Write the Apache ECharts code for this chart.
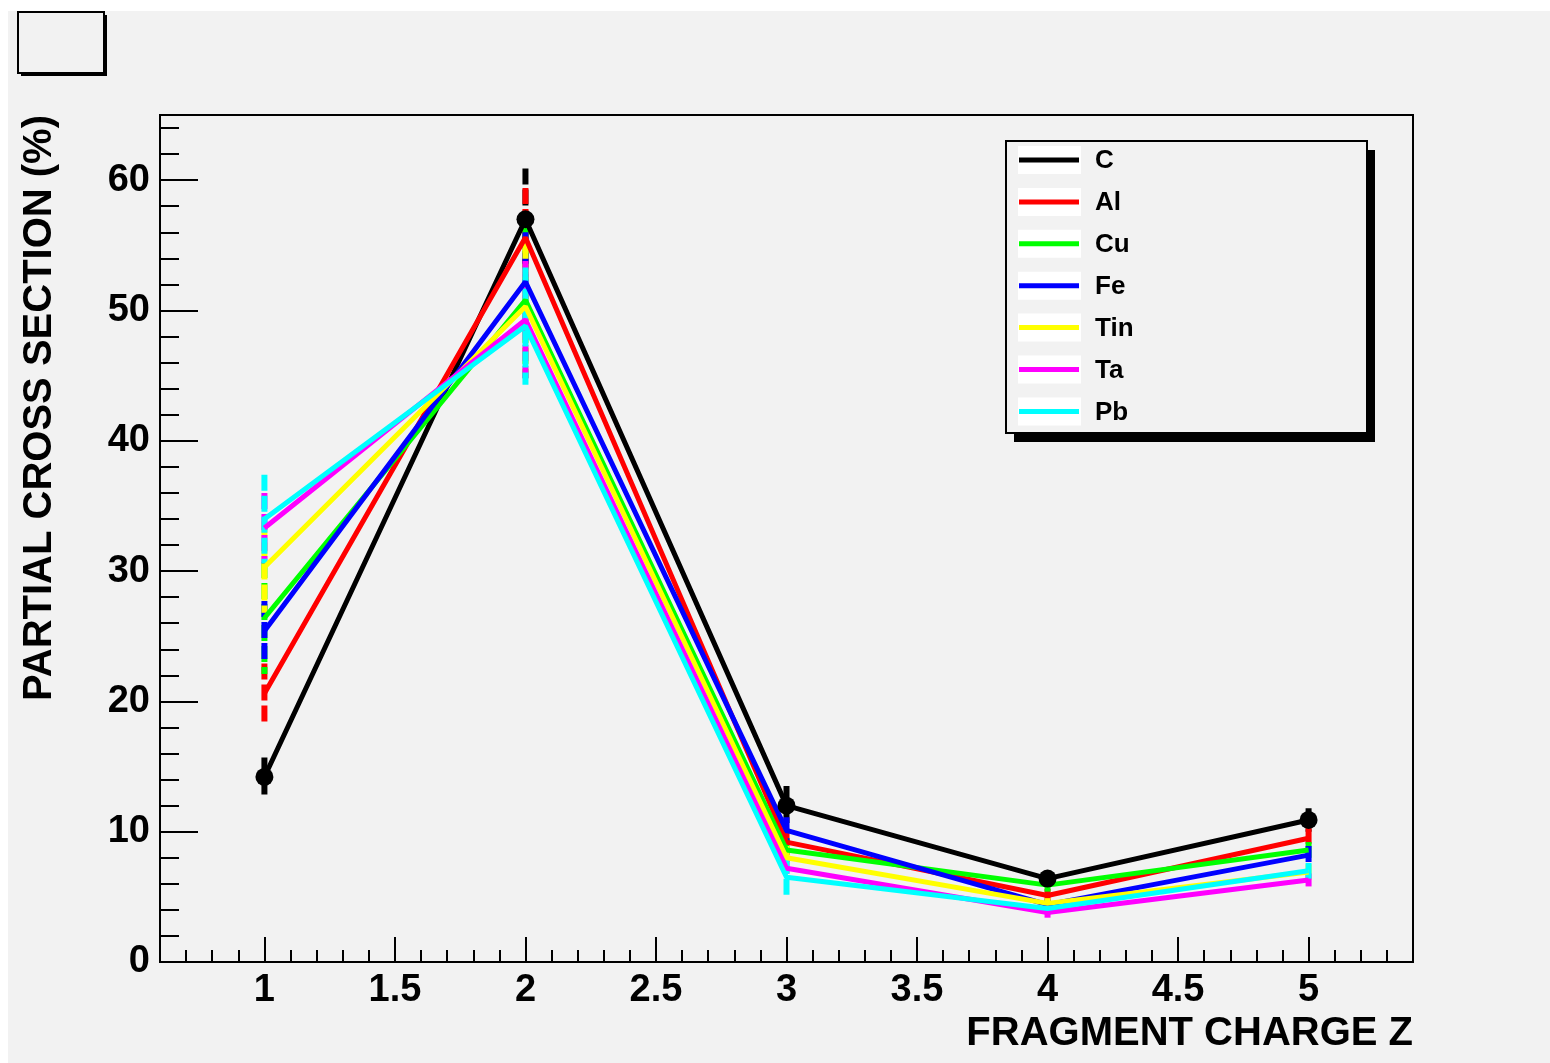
<!DOCTYPE html>
<html>
<head>
<meta charset="utf-8">
<script src="https://cdn.jsdelivr.net/npm/echarts@6/dist/echarts.min.js"></script>
<style>
  html, body { margin: 0; padding: 0; background: #ffffff; }
  #pad { position: absolute; left: 8px; top: 11px; width: 1542px; height: 1052px; background: #f2f2f2; }
  #chart { position: absolute; left: 0; top: 0; width: 1550px; height: 1063px; }
</style>
</head>
<body>
<div id="pad"></div>
<div id="chart"></div>
<script>
// Fragment charge Z
const charges = [1, 2, 3, 4, 5];

// Partial cross sections (%) per target, with errors
const targets = ['C', 'Al', 'Cu', 'Fe', 'Tin', 'Ta', 'Pb'];
const targetColors = ['#000000', '#ff0000', '#00ff00', '#0000ff', '#ffff00', '#ff00ff', '#00ffff'];

const sigmaC   = [14.2, 57.0, 12.0, 6.4, 10.9];
const sigmaAl  = [20.6, 55.6, 9.2, 5.1, 9.5];
const sigmaCu  = [26.4, 50.8, 8.6, 5.9, 8.6];
const sigmaFe  = [25.4, 52.2, 10.1, 4.4, 8.2];
const sigmaTin = [30.3, 50.3, 8.0, 4.5, 6.9];
const sigmaTa  = [33.3, 49.3, 7.2, 3.8, 6.3];
const sigmaPb  = [34.0, 48.8, 6.5, 4.1, 7.0];

const errC   = [1.5, 3.9, 1.5, 0.6, 0.9];
const errAl  = [2.3, 3.8, 1.0, 0.5, 0.8];
const errCu  = [4.3, 6.0, 0.9, 0.5, 0.6];
const errFe  = [2.3, 3.8, 1.0, 0.4, 0.7];
const errTin = [3.5, 4.9, 0.9, 0.4, 0.6];
const errTa  = [2.7, 4.5, 0.8, 0.4, 0.5];
const errPb  = [3.4, 4.5, 1.5, 0.4, 0.6];

const sigmas = [sigmaC, sigmaAl, sigmaCu, sigmaFe, sigmaTin, sigmaTa, sigmaPb];
const errors = [errC, errAl, errCu, errFe, errTin, errTa, errPb];

// Axis tick values
const xMajorTicks = [1, 1.5, 2, 2.5, 3, 3.5, 4, 4.5, 5];
const xMinorTicks = [0.6, 0.7, 0.8, 0.9, 1.0, 1.1, 1.2, 1.3, 1.4, 1.5, 1.6, 1.7, 1.8, 1.9, 2.0,
  2.1, 2.2, 2.3, 2.4, 2.5, 2.6, 2.7, 2.8, 2.9, 3.0, 3.1, 3.2, 3.3, 3.4, 3.5, 3.6, 3.7, 3.8, 3.9, 4.0,
  4.1, 4.2, 4.3, 4.4, 4.5, 4.6, 4.7, 4.8, 4.9, 5.0, 5.1, 5.2, 5.3, 5.4];
const yMajorTicks = [0, 10, 20, 30, 40, 50, 60];
const yMinorTicks = [2, 4, 6, 8, 12, 14, 16, 18, 22, 24, 26, 28, 32, 34, 36, 38, 42, 44, 46, 48,
  52, 54, 56, 58, 62, 64];

const FONT = '"Liberation Sans", Arial, Helvetica, sans-serif';

const series = [];
targets.forEach((name, i) => {
  const color = targetColors[i];
  series.push({
    name: name,
    type: 'line',
    xAxisIndex: 0,
    yAxisIndex: 0,
    data: charges.map((z, k) => [z, sigmas[i][k]]),
    symbol: i === 0 ? 'circle' : 'none',
    symbolSize: 18,
    itemStyle: { color: color },
    lineStyle: { color: color, width: 5 },
    z: 3,
    silent: true,
    animation: false
  });
  series.push({
    name: name + ' err',
    type: 'custom',
    xAxisIndex: 0,
    yAxisIndex: 0,
    data: charges.map((z, k) => [z, sigmas[i][k], errors[i][k]]),
    encode: { x: 0, y: 1 },
    z: 3,
    silent: true,
    animation: false,
    renderItem: function (params, api) {
      const x = api.value(0), y = api.value(1), e = api.value(2);
      const top = api.coord([x, y + e]);
      const bot = api.coord([x, y - e]);
      return {
        type: 'line',
        shape: { x1: top[0], y1: top[1], x2: bot[0], y2: bot[1] },
        style: { stroke: color, lineWidth: 6, lineDash: [16, 5] }
      };
    }
  });
});

// Legend entries built as graphics
const legendX = 1006, legendY = 141, legendW = 361, legendH = 292;
const legendGraphics = [
  { type: 'rect', shape: { x: legendX + 8, y: legendY + 9, width: legendW, height: legendH },
    style: { fill: '#000000' }, z: 100 },
  { type: 'rect', shape: { x: legendX, y: legendY, width: legendW, height: legendH },
    style: { fill: '#f2f2f2', stroke: '#000000', lineWidth: 2 }, z: 101 }
];
targets.forEach((name, i) => {
  const cy = 160 + i * 41.9;
  legendGraphics.push({
    type: 'rect', shape: { x: 1018, y: cy - 14, width: 63, height: 28 },
    style: { fill: '#ffffff' }, z: 102
  });
  legendGraphics.push({
    type: 'line', shape: { x1: 1019, y1: cy, x2: 1079, y2: cy },
    style: { stroke: targetColors[i], lineWidth: 5 }, z: 103
  });
  legendGraphics.push({
    type: 'text', x: 1095, y: cy + 1,
    style: { text: name, font: 'bold 26px ' + FONT, fill: '#000000', textAlign: 'left', textVerticalAlign: 'middle' },
    z: 103
  });
});

const chart = echarts.init(document.getElementById('chart'), null, { renderer: 'canvas' });
chart.setOption({
  backgroundColor: 'transparent',
  animation: false,
  grid: {
    left: 160, top: 115, right: 137, bottom: 101,
    show: true, borderColor: '#000000', borderWidth: 2, backgroundColor: '#f2f2f2'
  },
  xAxis: [
    {
      type: 'value', min: 0.6, max: 5.4, position: 'bottom',
      axisLine: { show: true, onZero: false, lineStyle: { color: '#000000', width: 2 } },
      axisTick: { show: true, inside: true, length: 25, customValues: xMajorTicks, lineStyle: { color: '#000000', width: 2 } },
      axisLabel: { show: true, customValues: xMajorTicks, margin: 10, color: '#000000', fontSize: 38, fontWeight: 'bold', fontFamily: FONT },
      splitLine: { show: false }
    },
    {
      type: 'value', min: 0.6, max: 5.4, position: 'bottom',
      axisLine: { show: false },
      axisTick: { show: true, inside: true, length: 12, customValues: xMinorTicks, lineStyle: { color: '#000000', width: 2 } },
      axisLabel: { show: false },
      splitLine: { show: false }
    }
  ],
  yAxis: [
    {
      type: 'value', min: 0, max: 65, position: 'left',
      axisLine: { show: true, onZero: false, lineStyle: { color: '#000000', width: 2 } },
      axisTick: { show: true, inside: true, length: 38, customValues: yMajorTicks, lineStyle: { color: '#000000', width: 2 } },
      axisLabel: { show: true, customValues: yMajorTicks, margin: 10, color: '#000000', fontSize: 38, fontWeight: 'bold', fontFamily: FONT },
      splitLine: { show: false }
    },
    {
      type: 'value', min: 0, max: 65, position: 'left',
      axisLine: { show: false },
      axisTick: { show: true, inside: true, length: 19, customValues: yMinorTicks, lineStyle: { color: '#000000', width: 2 } },
      axisLabel: { show: false },
      splitLine: { show: false }
    }
  ],
  graphic: [
    // empty title box with shadow
    { type: 'rect', shape: { x: 21, y: 15, width: 86, height: 61 }, style: { fill: '#000000' }, z: 100 },
    { type: 'rect', shape: { x: 18, y: 12, width: 86, height: 61 }, style: { fill: '#f2f2f2', stroke: '#000000', lineWidth: 2 }, z: 101 },
    // axis titles
    { type: 'text', x: 1413, y: 1034,
      style: { text: 'FRAGMENT CHARGE Z', font: 'bold 40px ' + FONT, fill: '#000000', textAlign: 'right', textVerticalAlign: 'middle' }, z: 101 },
    { type: 'text', x: 40, y: 115, rotation: Math.PI / 2,
      style: { text: 'PARTIAL CROSS SECTION (%)', font: 'bold 40px ' + FONT, fill: '#000000', textAlign: 'right', textVerticalAlign: 'middle' }, z: 101 }
  ].concat(legendGraphics),
  series: series
});
</script>
</body>
</html>
